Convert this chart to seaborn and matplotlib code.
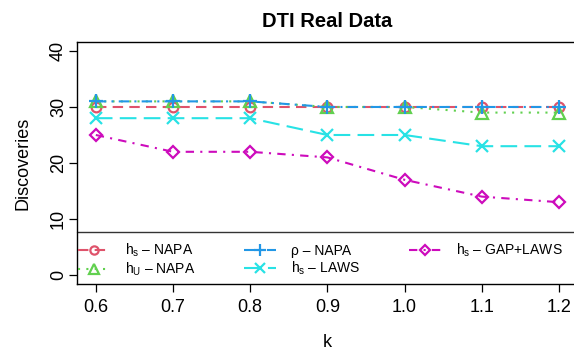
import matplotlib
matplotlib.use("Agg")
import matplotlib.pyplot as plt
import seaborn as sns
import numpy as np

k = [0.6, 0.7, 0.8, 0.9, 1.0, 1.1, 1.2]
hs_napa = [30, 30, 30, 30, 30, 30, 30]
hu_napa = [31, 31, 31, 30, 30, 29, 29]
rho_napa = [31, 31, 31, 30, 30, 30, 30]
hs_laws = [28, 28, 28, 25, 25, 23, 23]
hs_gap_laws = [25, 22, 22, 21, 17, 14, 13]
labels = [r"$\mathregular{h_s}$ – NAPA", r"$\mathregular{h_U}$ – NAPA",
          "ρ – NAPA", r"$\mathregular{h_s}$ – LAWS", r"$\mathregular{h_s}$ – GAP+LAWS"]
series = [hs_napa, hu_napa, rho_napa, hs_laws, hs_gap_laws]
colors = ["#DF536B", "#61D04F", "#2297E6", "#28E2E5", "#CD0BBC"]
markers = ["o", "^", "+", "x", "D"]
msizes = [7, 8, 10, 8, 6.5]
dashes = [(0, (5, 3)), (0, (1, 3)), (0, (5, 2.5, 1, 2.5)), (0, (8, 3.5)), (0, (4, 3, 1, 3))]

sns.set_style("ticks")
plt.rcParams["font.family"] = ["Liberation Sans", "DejaVu Sans"]
plt.rcParams["mathtext.fontset"] = "custom"
plt.rcParams["mathtext.rm"] = "Liberation Sans"
for key in ["text.color", "axes.labelcolor", "xtick.color", "ytick.color", "axes.edgecolor"]:
    plt.rcParams[key] = "black"

fig = plt.figure(figsize=(5.74, 3.5), dpi=100)
ax = fig.add_axes([77.3 / 574, 66 / 350, 500.2 / 574, 242 / 350])

for vals, lab, c, m, ms, ls in zip(series, labels, colors, markers, msizes, dashes):
    sns.lineplot(x=k, y=vals, ax=ax, color=c, marker=m, markersize=ms,
                 markerfacecolor="none", markeredgecolor=c, markeredgewidth=1.6,
                 linestyle=ls, linewidth=1.5, label=lab, legend=False)

ax.set_xlim(0.576, 1.224)
ax.set_ylim(-1.6, 41.6)
ax.set_xticks(k)
ax.set_xticklabels([f"{v:.1f}" for v in k])
ax.set_yticks([0, 10, 20, 30, 40])
ax.set_yticklabels(["0", "10", "20", "30", "40"], rotation=90, va="center")
for s in ax.spines.values():
    s.set_visible(True)
    s.set_linewidth(1.0)
    s.set_color("black")
ax.tick_params(axis="both", direction="out", length=5.5, width=0.9, labelsize=13, colors="black")
ax.tick_params(axis="x", pad=5)
ax.tick_params(axis="y", pad=2)
ax.set_xlabel("k", fontsize=13, labelpad=13)
ax.set_ylabel("Discoveries", fontsize=13, labelpad=13)
ax.set_title("DTI Real Data", fontsize=14.5, fontweight="bold", pad=11)

# legend box top border
ax.plot([0, 1], [(284 - 232) / 242] * 2, transform=ax.transAxes, color="#333333", lw=1.0, clip_on=False)

handles = ax.get_lines()[:5]
leg = ax.legend(handles=handles, labels=labels, ncol=3, loc="upper left",
                bbox_to_anchor=(-0.01, (284 - 236) / 242), frameon=False, fontsize=10,
                handlelength=2.3, handletextpad=1.1, columnspacing=3.5, labelspacing=0.15,
                borderaxespad=0, markerscale=0.85)

fig.savefig("out.png", dpi=100)
